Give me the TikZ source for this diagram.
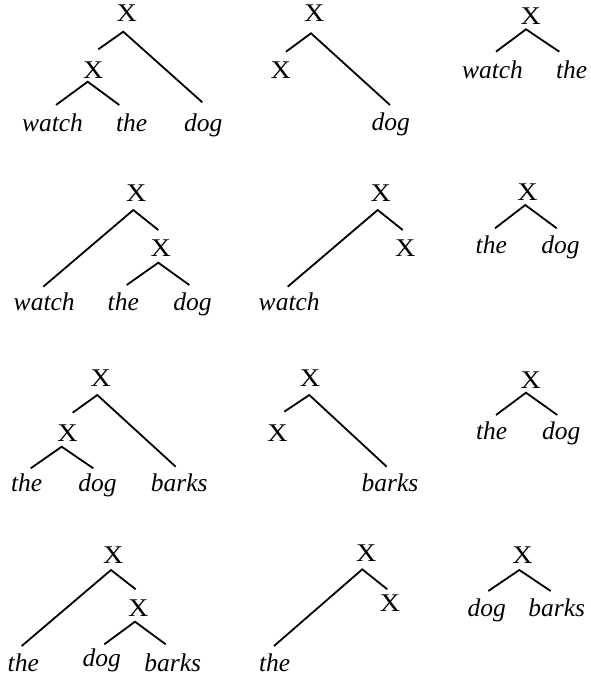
\documentclass[tikz,border=0pt]{standalone}
\usepackage{fontspec}
\newfontfamily\tmsfont{Liberation Serif}
\begin{document}
\begin{tikzpicture}[x=1pt,y=-1pt,
  wrd/.style={font=\tmsfont\fontsize{25.5}{28}\selectfont\itshape, anchor=base, inner sep=0pt},
  xn/.style={font=\tmsfont\fontsize{25.5}{28}\selectfont, anchor=base, inner sep=0pt, xscale=1.1},
  br/.style={line width=1.8pt, line cap=butt}]
\useasboundingbox (0,0) rectangle (590,680);
% ---------- Tree 1
\node[xn] (t1r) at (126.7,21.7) {X};
\node[xn] (t1i) at (93.3,78) {X};
\node[wrd] (t1w) at (52.5,131.7) {watch};
\node[wrd] (t1t) at (131.7,131.7) {the};
\node[wrd] (t1d) at (203.3,131.7) {dog};
\coordinate (t1a) at (123.3,31.7);
\coordinate (t1al) at (98.3,49.3);
\coordinate (t1ar) at (202.3,102.3);
\coordinate (t1b) at (87.7,81.7);
\coordinate (t1bl) at (56,105);
\coordinate (t1br) at (119.3,105);
\draw[br] (t1al) -- (t1a) -- (t1ar);
\draw[br] (t1bl) -- (t1b) -- (t1br);
% ---------- Tree 2
\node[xn] (t2r) at (314.2,21.7) {X};
\node[xn] (t2x) at (280.8,78) {X};
\node[wrd] (t2d) at (390.8,130) {dog};
\coordinate (t2a) at (311,33.3);
\coordinate (t2al) at (286,51.7);
\coordinate (t2ar) at (390,105);
\draw[br] (t2al) -- (t2a) -- (t2ar);
% ---------- Tree 3
\node[xn] (t3r) at (530.8,24.5) {X};
\node[wrd] (t3w) at (492.5,78) {watch};
\node[wrd] (t3t) at (571.7,78) {the};
\coordinate (t3a) at (526,29.3);
\coordinate (t3al) at (496,51.7);
\coordinate (t3ar) at (559.3,51.7);
\draw[br] (t3al) -- (t3a) -- (t3ar);
% ---------- Tree 4
\node[xn] (t4r) at (136.3,201.7) {X};
\node[xn] (t4i) at (160.8,256.7) {X};
\node[wrd] (t4w) at (44.2,310) {watch};
\node[wrd] (t4t) at (123.3,310) {the};
\node[wrd] (t4d) at (192.5,310) {dog};
\coordinate (t4a) at (133.3,210);
\coordinate (t4al) at (43.3,286.7);
\coordinate (t4ar) at (158.3,230);
\coordinate (t4b) at (158.3,262.7);
\coordinate (t4bl) at (126.7,285);
\coordinate (t4br) at (189.3,285);
\draw[br] (t4al) -- (t4a) -- (t4ar);
\draw[br] (t4bl) -- (t4b) -- (t4br);
% ---------- Tree 5
\node[xn] (t5r) at (380.8,201.7) {X};
\node[xn] (t5x) at (405.3,256.7) {X};
\node[wrd] (t5w) at (289.2,310) {watch};
\coordinate (t5a) at (377.7,210);
\coordinate (t5al) at (287.7,286.7);
\coordinate (t5ar) at (402.7,230);
\draw[br] (t5al) -- (t5a) -- (t5ar);
% ---------- Tree 6
\node[xn] (t6r) at (527.5,200) {X};
\node[wrd] (t6t) at (491.3,253.3) {the};
\node[wrd] (t6d) at (560.5,253.3) {dog};
\coordinate (t6a) at (525.3,205);
\coordinate (t6al) at (495,228.3);
\coordinate (t6ar) at (556.7,228.3);
\draw[br] (t6al) -- (t6a) -- (t6ar);
% ---------- Tree 7
\node[xn] (t7r) at (100.8,386.7) {X};
\node[xn] (t7i) at (67.5,441.7) {X};
\node[wrd] (t7t) at (26.7,491.7) {the};
\node[wrd] (t7d) at (97.5,491.7) {dog};
\node[wrd] (t7b) at (179.2,491.7) {barks};
\coordinate (t7a) at (97.3,395);
\coordinate (t7al) at (72.7,412.7);
\coordinate (t7ar) at (175.7,466.7);
\coordinate (t7c) at (61.7,446.7);
\coordinate (t7cl) at (30.7,468.3);
\coordinate (t7cr) at (93.3,468.3);
\draw[br] (t7al) -- (t7a) -- (t7ar);
\draw[br] (t7cl) -- (t7c) -- (t7cr);
% ---------- Tree 8
\node[xn] (t8r) at (310,386.7) {X};
\node[xn] (t8x) at (277.5,441.7) {X};
\node[wrd] (t8b) at (390,491.7) {barks};
\coordinate (t8a) at (309.3,395);
\coordinate (t8al) at (284.3,411.7);
\coordinate (t8ar) at (386.7,466.7);
\draw[br] (t8al) -- (t8a) -- (t8ar);
% ---------- Tree 9
\node[xn] (t9r) at (530.8,388.3) {X};
\node[wrd] (t9t) at (491.7,439.3) {the};
\node[wrd] (t9d) at (561.3,439.3) {dog};
\coordinate (t9a) at (526,392.7);
\coordinate (t9al) at (496,415);
\coordinate (t9ar) at (557.3,415);
\draw[br] (t9al) -- (t9a) -- (t9ar);
% ---------- Tree 10
\node[xn] (t10r) at (113.3,563.3) {X};
\node[xn] (t10i) at (138.3,616.7) {X};
\node[wrd] (t10t) at (23.3,671.7) {the};
\node[wrd] (t10d) at (101.7,666.7) {dog};
\node[wrd] (t10b) at (172.8,671.7) {barks};
\coordinate (t10a) at (111,570);
\coordinate (t10al) at (21.7,646);
\coordinate (t10ar) at (135.7,589.3);
\coordinate (t10c) at (135,621.7);
\coordinate (t10cl) at (104.3,644.3);
\coordinate (t10cr) at (165.7,644.3);
\draw[br] (t10al) -- (t10a) -- (t10ar);
\draw[br] (t10cl) -- (t10c) -- (t10cr);
% ---------- Tree 11
\node[xn] (t11r) at (366.3,561.7) {X};
\node[xn] (t11x) at (390,611.7) {X};
\node[wrd] (t11t) at (274.7,671.7) {the};
\coordinate (t11a) at (362.3,569.3);
\coordinate (t11al) at (274,646);
\coordinate (t11ar) at (387.3,589.3);
\draw[br] (t11al) -- (t11a) -- (t11ar);
% ---------- Tree 12
\node[xn] (t12r) at (522.5,563.3) {X};
\node[wrd] (t12d) at (486.7,616.7) {dog};
\node[wrd] (t12b) at (556.7,616.7) {barks};
\coordinate (t12a) at (519.3,570);
\coordinate (t12al) at (488.3,591);
\coordinate (t12ar) at (550.7,591);
\draw[br] (t12al) -- (t12a) -- (t12ar);
\end{tikzpicture}
\end{document}
